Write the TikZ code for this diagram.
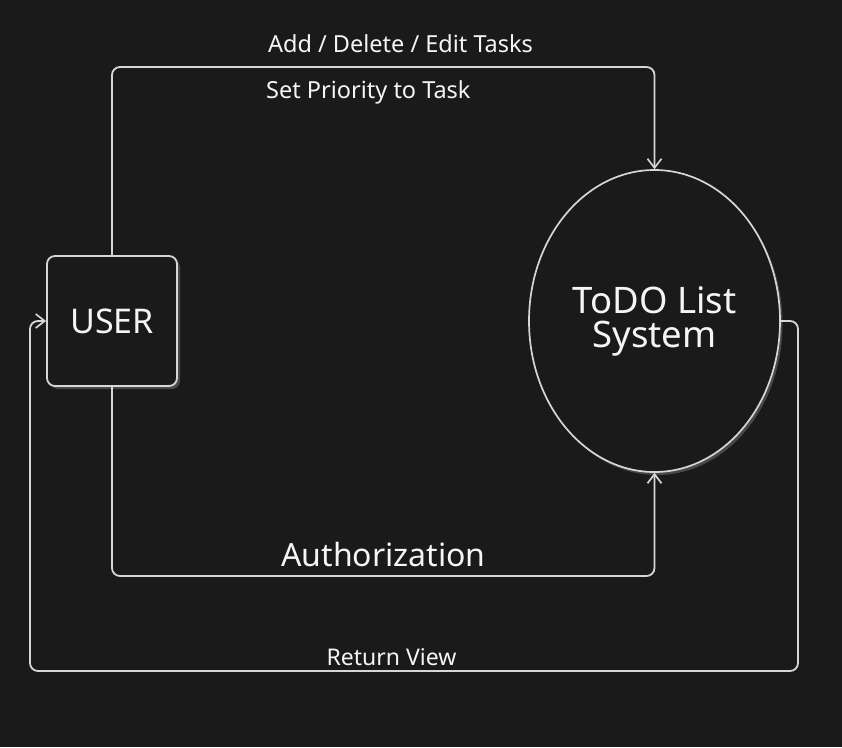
\documentclass[tikz,border=0pt]{standalone}
\usepackage{fontspec}
\setmainfont{Noto Sans}
\usetikzlibrary{arrows.meta,shapes.geometric}
\definecolor{bg}{HTML}{1A1A1A}
\definecolor{ln}{HTML}{D6D6D6}
\definecolor{shd}{HTML}{484848}
\definecolor{txt}{HTML}{F5F5F5}
\tikzset{
  conn/.style={draw=ln, line width=1.8pt, rounded corners=8pt, line cap=round, line join=round},
  tip/.style={-{Straight Barb[length=9pt,width=14pt,line width=1.7pt]}},
  lbl/.style={text=txt, inner sep=0pt},
  userbox/.style={draw=ln, line width=1.8pt, fill=bg, rounded corners=8pt, minimum width=130pt, minimum height=130pt, inner sep=0pt, text=txt, font=\fontsize{34}{38}\selectfont},
  sysell/.style={ellipse, draw=ln, line width=1.7pt, fill=bg, minimum width=251pt, minimum height=302pt, inner sep=0pt, text=txt, align=center, font=\fontsize{36.5}{34}\selectfont}
}
\begin{document}
\begin{tikzpicture}[x=1pt,y=-1pt]
\fill[bg] (0,0) rectangle (842,747);
\useasboundingbox (0,0) rectangle (842,747);
% shadows
\fill[shd, rounded corners=8pt] (50,259) rectangle (180,389);
\fill[shd] (657,324) ellipse [x radius=125.5pt, y radius=151pt];
% nodes
\node[userbox] (user) at (112,321) {USER};
\node[sysell] (sys) at (654.5,321) {ToDO List\\System};
% connectors
\coordinate (ttop) at (400,67);
\coordinate (bbot) at (400,576);
\coordinate (rcorner) at (798,671);
\coordinate (lup) at (30,321);
\draw[conn, tip] (user.north) |- (ttop) -| (sys.north);
\draw[conn, tip] (user.south) |- (bbot) -| (sys.south);
\draw[conn, tip] (sys.east) -| (rcorner) -| (lup) -- (user.west);
% labels
\node[lbl, font=\fontsize{23.5}{26}\selectfont] (l1) at (400.5,44) {Add / Delete / Edit Tasks};
\node[lbl, anchor=west, font=\fontsize{23.5}{26}\selectfont] (l2) at (266,92) {Set Priority to Task};
\node[lbl, font=\fontsize{32}{36}\selectfont] (l3) at (383.5,554) {Authorization};
\node[lbl, font=\fontsize{23}{26}\selectfont] (l4) at (391.5,657) {Return View};
\end{tikzpicture}
\end{document}
